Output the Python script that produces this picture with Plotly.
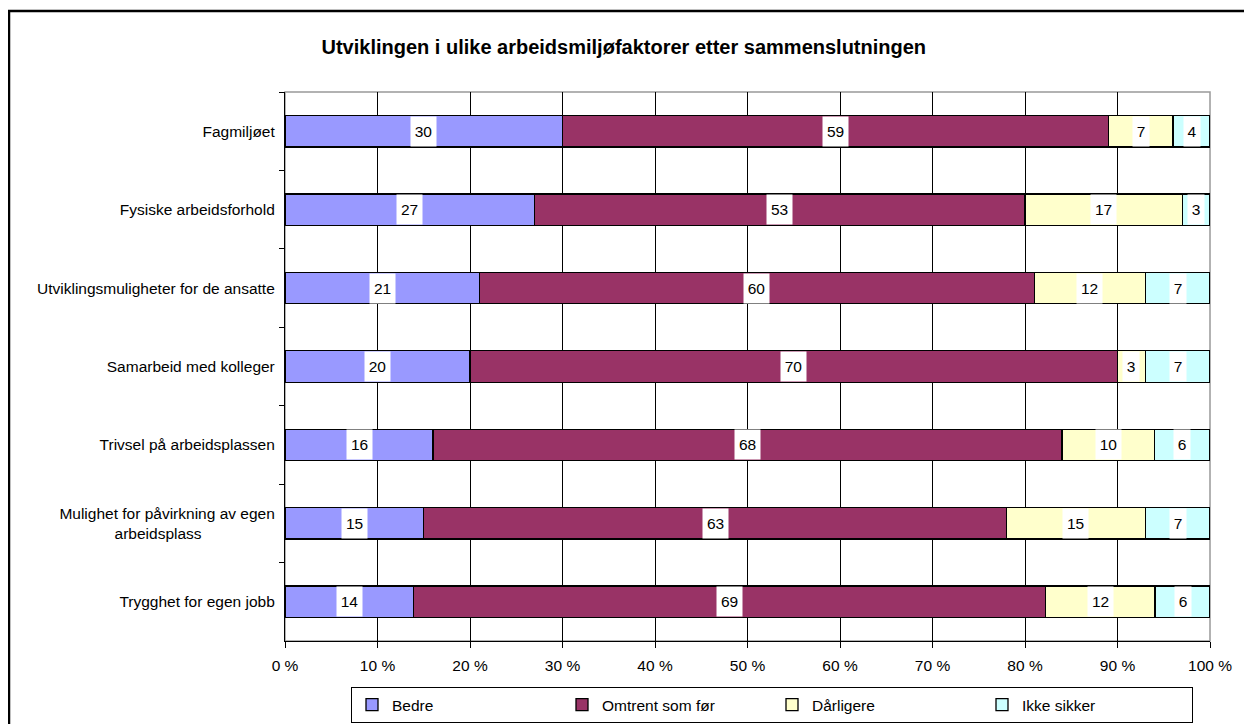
import plotly.graph_objects as go

# data
kategorier = ['Fagmiljøet', 'Fysiske arbeidsforhold', 'Utviklingsmuligheter for de ansatte',
              'Samarbeid med kolleger', 'Trivsel på arbeidsplassen',
              'Mulighet for påvirkning av egen<br>arbeidsplass' + '\u00a0' * 17,
              'Trygghet for egen jobb']
bedre = [30, 27, 21, 20, 16, 15, 14]
omtrent = [59, 53, 60, 70, 68, 63, 69]
darligere = [7, 17, 12, 3, 10, 15, 12]
ikke_sikker = [4, 3, 7, 7, 6, 7, 6]

serier = ['Bedre', 'Omtrent som før', 'Dårligere', 'Ikke sikker']
farger = ['#9999FF', '#993366', '#FFFFCC', '#CCFFFF']
verdier = [bedre, omtrent, darligere, ikke_sikker]

font = 'Liberation Sans, Arial, sans-serif'

fig = go.Figure()
for navn, farge, v in zip(serier, farger, verdier):
    fig.add_trace(go.Bar(name=navn, y=kategorier, x=v, orientation='h',
                         marker=dict(color=farge, line=dict(color='black', width=1.3)),
                         hoverinfo='x+name'))

# number labels in white boxes, centred in each segment
for i, kat in enumerate(kategorier):
    total = sum(v[i] for v in verdier)
    start = 0
    for v in verdier:
        andel = v[i] / total * 100
        tekst = str(v[i])
        fig.add_annotation(x=start + andel / 2, y=kat, text=tekst, showarrow=False,
                           bgcolor='white', width=len(tekst) * 9 + 5, height=27,
                           font=dict(family=font, size=15.5, color='black'))
        start += andel

# page has an 8px body margin, so the figure is a bit smaller than the window
W, H = 1244, 716
fig.update_layout(
    barmode='stack', barnorm='percent', bargap=0.6,
    width=W, height=H,
    margin=dict(l=277, r=42, t=84, b=83),
    paper_bgcolor='white', plot_bgcolor='white',
    font=dict(family=font, size=15.5, color='black'),
    title=dict(text='<b>Utviklingen i ulike arbeidsmiljøfaktorer etter sammenslutningen</b>',
               x=0.495, xref='container', y=1 - 39 / H, yref='container', yanchor='middle',
               font=dict(family=font, size=20, color='black')),
    showlegend=True,
    legend=dict(orientation='h', x=(772 - 285) / 925, xanchor='center',
                y=1 - 679 / H, yref='container', yanchor='top',
                bordercolor='black', borderwidth=1, entrywidth=165, traceorder='normal',
                font=dict(family=font, size=15.5, color='black')),
    shapes=[
        dict(type='rect', xref='paper', yref='paper', x0=0, x1=1, y0=0, y1=1,
             line=dict(color='#999999', width=1.5), layer='below'),
        dict(type='rect', xref='paper', yref='paper', x0=(9 - 285) / 925, x1=1.2,
             y0=-0.3, y1=1 + (92 - 11) / 549, line=dict(color='black', width=2.5)),
    ],
)
fig.update_xaxes(range=[0, 100], dtick=10, ticksuffix=' %', showgrid=True, gridcolor='black',
                 gridwidth=1, showline=True, linecolor='black', linewidth=1.2,
                 ticks='outside', ticklen=6, tickcolor='black', zeroline=False,
                 ticklabelstandoff=4, tickfont=dict(family=font, size=15.5))
fig.update_yaxes(autorange='reversed', showline=True, linecolor='black', linewidth=1.2,
                 ticks='outside', tickson='boundaries', ticklen=5, tickcolor='black',
                 showgrid=False, ticklabelstandoff=6, tickfont=dict(family=font, size=15.5))

fig.write_html('out.html')
